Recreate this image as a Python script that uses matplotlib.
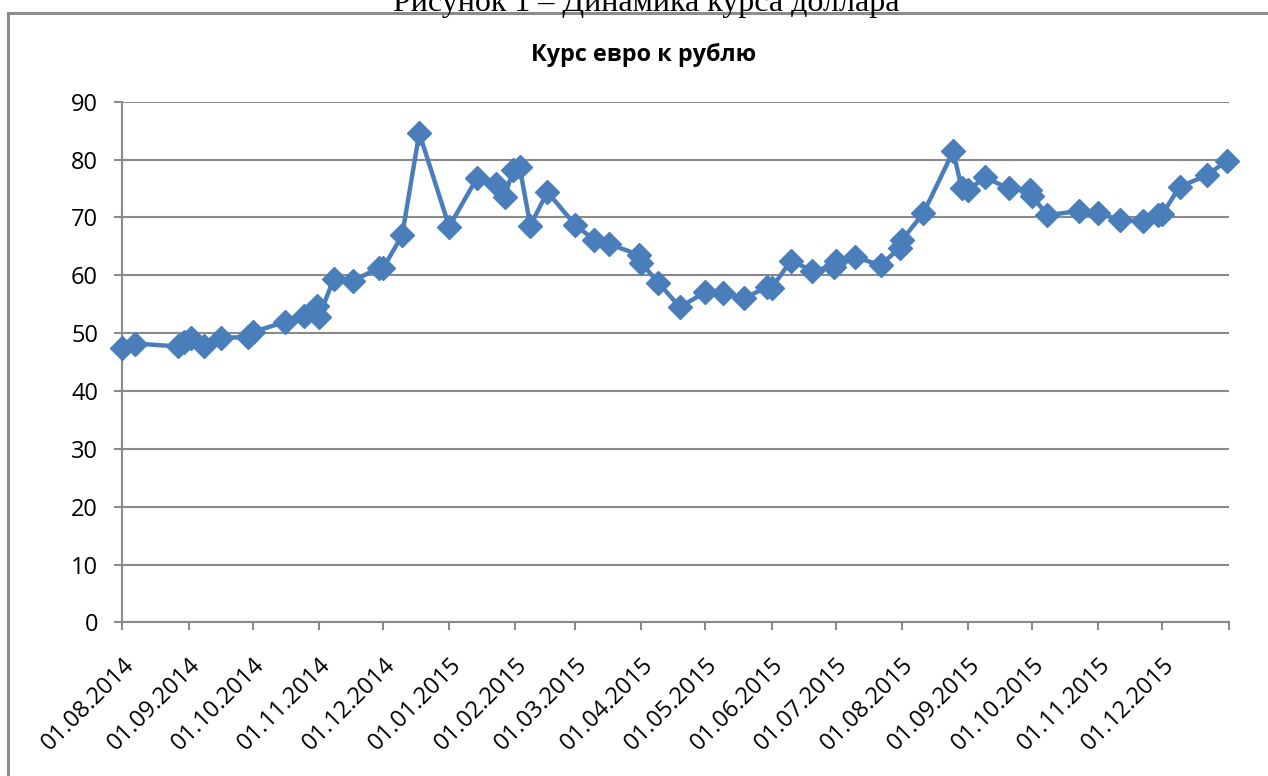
import matplotlib
matplotlib.use("Agg")
import matplotlib.pyplot as plt
from matplotlib.patches import Rectangle
import pandas as pd

dates = ["01.08.2014", "07.08.2014", "27.08.2014", "30.08.2014", "02.09.2014", "08.09.2014",
         "16.09.2014", "29.09.2014", "01.10.2014", "16.10.2014", "25.10.2014", "31.10.2014",
         "01.11.2014", "08.11.2014", "17.11.2014", "29.11.2014", "01.12.2014", "10.12.2014",
         "18.12.2014", "01.01.2015", "14.01.2015", "23.01.2015", "27.01.2015", "31.01.2015",
         "03.02.2015", "08.02.2015", "16.02.2015", "01.03.2015", "10.03.2015", "17.03.2015",
         "31.03.2015", "01.04.2015", "09.04.2015", "19.04.2015", "01.05.2015", "09.05.2015",
         "19.05.2015", "30.05.2015", "01.06.2015", "10.06.2015", "20.06.2015", "30.06.2015",
         "01.07.2015", "10.07.2015", "22.07.2015", "31.07.2015", "01.08.2015", "11.08.2015",
         "25.08.2015", "29.08.2015", "01.09.2015", "09.09.2015", "20.09.2015", "30.09.2015",
         "01.10.2015", "08.10.2015", "23.10.2015", "01.11.2015", "11.11.2015", "22.11.2015",
         "29.11.2015", "01.12.2015", "09.12.2015", "22.12.2015", "31.12.2015"]
rates = [47.4, 48.2, 47.7, 48.5, 49.1, 47.8,
         49.2, 49.3, 50.2, 51.9, 52.9, 54.7,
         52.8, 59.4, 59.0, 61.3, 61.2, 66.9,
         84.6, 68.4, 76.8, 75.7, 73.6, 78.2,
         78.7, 68.6, 74.4, 68.7, 66.1, 65.4,
         63.5, 62.1, 58.7, 54.5, 57.1, 56.9,
         56.0, 58.0, 57.8, 62.5, 60.8, 61.5,
         62.5, 63.1, 61.8, 64.7, 66.1, 70.7,
         81.4, 75.0, 74.8, 76.9, 75.0, 74.8,
         73.7, 70.4, 71.1, 70.7, 69.6, 69.3,
         70.4, 70.6, 75.3, 77.3, 79.8]
y_ticks = [0, 10, 20, 30, 40, 50, 60, 70, 80, 90]
title = "Курс евро к рублю"
caption = "Рисунок 1 – Динамика курса доллара"

x = pd.to_datetime(dates, format="%d.%m.%Y")
month_ticks = pd.date_range("2014-08-01", "2016-01-01", freq="MS")
tick_labels = [d.strftime("%d.%m.%Y") if d.year < 2016 else "" for d in month_ticks]

W, H = 1268, 776
fig = plt.figure(figsize=(W / 100, H / 100), dpi=100)
fig.patch.set_facecolor("white")

# chart border
fig.patches.append(Rectangle((8 / W, -0.1), 1.2, 1 - 13 / H + 0.1, transform=fig.transFigure,
                             fill=False, edgecolor="#8c8c8c", linewidth=2.2))

fig.text(646 / W, 1 - 10.5 / H, caption, ha="center", va="baseline",
         fontsize=23, family="Liberation Serif", color="black")

ax = fig.add_axes([122.4 / W, 1 - 622.4 / H, (1228.7 - 122.4) / W, (622.4 - 101.7) / H])
ax.plot(x, rates, color="#4a7ebb", linewidth=3.2, marker="D", markersize=12,
        markerfacecolor="#4a7ebb", markeredgecolor="#4a7ebb", zorder=3, clip_on=False)

ax.set_ylim(0, 90)
ax.set_yticks(y_ticks)
ax.set_xlim(month_ticks[0], month_ticks[-1])
ax.set_xticks(month_ticks)
ax.set_xticklabels(tick_labels, rotation=45, ha="right", rotation_mode="anchor",
                   family="Open Sans", fontsize=17)
for lbl in ax.get_yticklabels():
    lbl.set_family("Open Sans")
    lbl.set_fontsize(17)

ax.grid(axis="y", color="#8a8a8a", linewidth=1.5)
ax.set_axisbelow(True)
for s in ["top", "right"]:
    ax.spines[s].set_visible(False)
for s in ["left", "bottom"]:
    ax.spines[s].set_color("#8a8a8a")
    ax.spines[s].set_linewidth(1.5)
ax.tick_params(axis="both", colors="#8a8a8a", length=6, width=1.5, labelcolor="black")
ax.tick_params(axis="y", pad=11.5)
ax.tick_params(axis="x", pad=16)

fig.text(644 / W, 1 - 55 / H, title, ha="center", va="center",
         fontsize=16.8, fontweight="bold", family="Open Sans", color="black")

fig.savefig("out.png", dpi=100)
